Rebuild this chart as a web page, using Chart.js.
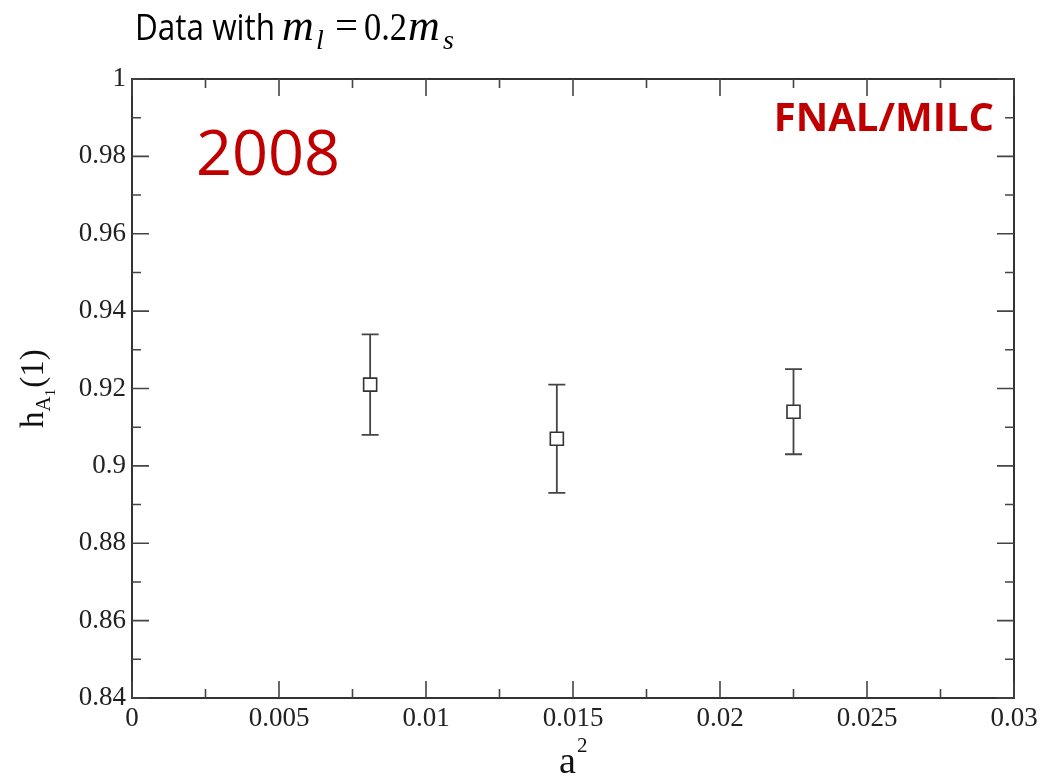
<!DOCTYPE html>
<html>
<head>
<meta charset="utf-8">
<script src="https://cdn.jsdelivr.net/npm/chart.js@4.4.1/dist/chart.umd.min.js"></script>
<style>
  html, body { margin: 0; padding: 0; background: #fff; }
  #wrap { width: 1044px; height: 780px; position: relative; }
</style>
</head>
<body>
<div id="wrap"><canvas id="hA1Chart" width="1044" height="780"></canvas></div>
<script>
// lattice spacing squared vs h_A1(1)
const a2Values = [0.0081, 0.01445, 0.0225];
const hA1Values = [0.921, 0.907, 0.914];
const hA1Errors = [0.013, 0.014, 0.011];
const xTickValues = [0, 0.005, 0.01, 0.015, 0.02, 0.025, 0.03];
const yTickValues = [0.84, 0.86, 0.88, 0.9, 0.92, 0.94, 0.96, 0.98, 1];

const serif = '"Liberation Serif", "Times New Roman", serif';
const tickFont = { family: 'Liberation Serif', size: 27 };
const red = '#c00000';

// error bars drawn under the markers
const errorBars = {
    id: 'errorBars',
    beforeDatasetsDraw(chart) {
        const ctx = chart.ctx;
        const xs = chart.scales.x, ys = chart.scales.y;
        ctx.save();
        ctx.strokeStyle = '#444';
        ctx.lineWidth = 1.8;
        a2Values.forEach((a, i) => {
            const px = xs.getPixelForValue(a);
            const top = ys.getPixelForValue(hA1Values[i] + hA1Errors[i]);
            const bot = ys.getPixelForValue(hA1Values[i] - hA1Errors[i]);
            ctx.beginPath();
            ctx.moveTo(px, top); ctx.lineTo(px, bot);
            ctx.moveTo(px - 8.5, top); ctx.lineTo(px + 8.5, top);
            ctx.moveTo(px - 8.5, bot); ctx.lineTo(px + 8.5, bot);
            ctx.stroke();
        });
        ctx.restore();
    }
};

// text squeezed horizontally into a given width (stands in for Calibri / Cambria Math)
function fitText(ctx, txt, font, x, y, width) {
    ctx.font = font;
    const w = ctx.measureText(txt).width;
    ctx.save();
    ctx.translate(x, y);
    if (width) ctx.scale(width / w, 1);
    ctx.fillText(txt, 0, 0);
    ctx.restore();
}

// frame with inward ticks on all four sides, plus the text pieces
const frameAndText = {
    id: 'frameAndText',
    afterDraw(chart) {
        const ctx = chart.ctx;
        const area = chart.chartArea;
        const xs = chart.scales.x, ys = chart.scales.y;
        ctx.save();
        ctx.strokeStyle = '#333';
        ctx.lineWidth = 2;
        ctx.strokeRect(area.left, area.top, area.right - area.left, area.bottom - area.top);

        ctx.lineWidth = 1.6;
        ctx.strokeStyle = '#444';
        ctx.beginPath();
        for (let k = 0; k <= 12; k++) {
            const v = k * 0.0025;
            const len = k % 2 === 0 ? 17 : 9;
            const px = xs.getPixelForValue(v);
            ctx.moveTo(px, area.bottom); ctx.lineTo(px, area.bottom - len);
            ctx.moveTo(px, area.top); ctx.lineTo(px, area.top + len);
        }
        for (let k = 0; k <= 16; k++) {
            const v = 0.84 + k * 0.01;
            const len = k % 2 === 0 ? 17 : 9;
            const py = ys.getPixelForValue(v);
            ctx.moveTo(area.left, py); ctx.lineTo(area.left + len, py);
            ctx.moveTo(area.right, py); ctx.lineTo(area.right - len, py);
        }
        ctx.stroke();

        // title: Data with m_l = 0.2 m_s
        ctx.fillStyle = '#000';
        ctx.textBaseline = 'alphabetic';
        ctx.textAlign = 'left';
        const base = 40;
        fitText(ctx, 'Data with', '37px "Open Sans", sans-serif', 135, base, 140);
        fitText(ctx, 'm', 'italic 44px ' + serif, 282, base);
        fitText(ctx, 'l', 'italic 28px ' + serif, 316, base + 9);
        fitText(ctx, '=', '40px ' + serif, 335, base - 1, 23);
        fitText(ctx, '0.2', '40px ' + serif, 364, base, 43);
        fitText(ctx, 'm', 'italic 44px ' + serif, 408, base);
        fitText(ctx, 's', 'italic 28px ' + serif, 443, base + 9);

        // year and collaboration
        ctx.fillStyle = red;
        ctx.font = '63px "Open Sans", sans-serif';
        ctx.fillText('2008', 196, 175);
        ctx.font = 'bold 40px "Open Sans", sans-serif';
        ctx.textAlign = 'right';
        ctx.fillText('FNAL/MILC', 994, 131);

        // x axis title a^2
        ctx.fillStyle = '#111';
        ctx.textAlign = 'left';
        ctx.font = '38px ' + serif;
        ctx.fillText('a', 559, 773);
        ctx.font = '21px ' + serif;
        ctx.fillText('2', 577, 752);

        // y axis title h_{A_1}(1), rotated
        ctx.save();
        ctx.translate(43, 428);
        ctx.rotate(-Math.PI / 2);
        let yx = 0;
        const rp = (txt, size, dy) => {
            ctx.font = size + 'px ' + serif;
            ctx.fillText(txt, yx, dy || 0);
            yx += ctx.measureText(txt).width;
        };
        rp('h', 33);
        rp('A', 21, 7);
        rp('1', 15, 12);
        yx += 1;
        rp('(1)', 33);
        ctx.restore();
        ctx.restore();
    }
};

const chart = new Chart(document.getElementById('hA1Chart').getContext('2d'), {
    type: 'scatter',
    data: {
        datasets: [{
            label: 'hA1(1)',
            data: a2Values.map((a, i) => ({ x: a, y: hA1Values[i] })),
            pointStyle: 'rect',
            pointRadius: 9.2,
            pointHoverRadius: 9.2,
            pointBackgroundColor: '#fff',
            pointBorderColor: '#333',
            pointBorderWidth: 1.6
        }]
    },
    options: {
        responsive: false,
        animation: false,
        events: [],
        layout: { padding: { top: 79, right: 30, left: 0, bottom: 0 } },
        plugins: {
            legend: { display: false },
            tooltip: { enabled: false }
        },
        scales: {
            x: {
                type: 'linear',
                min: 0,
                max: 0.03,
                afterBuildTicks: (s) => { s.ticks = xTickValues.map(v => ({ value: v })); },
                afterFit: (s) => { s.height = 82; },
                grid: { display: false, drawTicks: false },
                border: { display: false },
                ticks: {
                    padding: 5,
                    color: '#222',
                    font: tickFont,
                    maxRotation: 0,
                    autoSkip: false,
                    callback: (v) => String(+v.toFixed(4))
                }
            },
            y: {
                type: 'linear',
                min: 0.84,
                max: 1,
                afterBuildTicks: (s) => { s.ticks = yTickValues.map(v => ({ value: v })); },
                afterFit: (s) => { s.width = 132; },
                grid: { display: false, drawTicks: false },
                border: { display: false },
                ticks: {
                    padding: 6,
                    color: '#222',
                    font: tickFont,
                    autoSkip: false,
                    callback: (v) => String(+v.toFixed(3))
                }
            }
        }
    },
    plugins: [errorBars, frameAndText]
});
</script>
</body>
</html>
